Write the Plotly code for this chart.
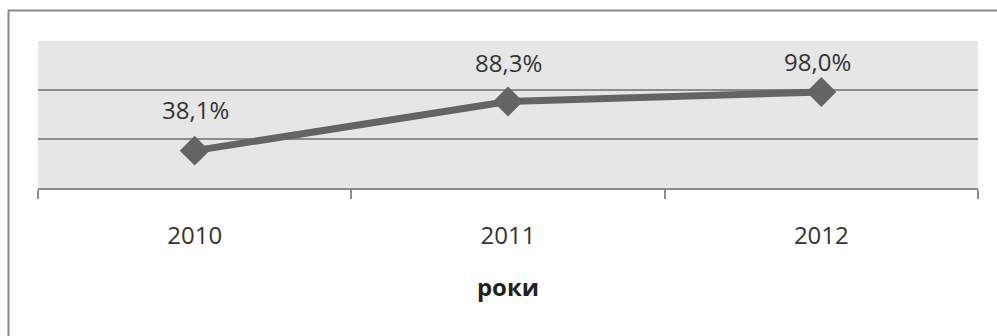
import plotly.graph_objects as go

years = ["2010", "2011", "2012"]
shares = [38.1, 88.3, 98.0]
labels = ["38,1%", "88,3%", "98,0%"]
label_yshift = [41, 39, 30]
label_xshift = [1, 0, -4]

FONT = "Open Sans"
FS = 24
TXT = "#333333"
GRID = "#8c8c8c"

fig = go.Figure()
fig.add_trace(go.Scatter(
    x=years, y=shares, mode="lines+markers",
    line=dict(color="#646464", width=7),
    marker=dict(symbol="diamond", size=23, color="#646464"),
    hoverinfo="skip", showlegend=False,
))

# category axis: annotation positions given by category index
for i, (y, t, dy, dx) in enumerate(zip(shares, labels, label_yshift, label_xshift)):
    fig.add_annotation(x=i, y=y, text=t, showarrow=False, yshift=dy, xshift=dx,
                       font=dict(family=FONT, size=FS, color=TXT))

# outer chart border (extends beyond the visible area on right/bottom)
fig.add_shape(type="rect", xref="paper", yref="paper",
              x0=(8.5 - 38) / 940, x1=(1005 - 38) / 940,
              y0=1 - (345 - 41) / 147, y1=1 + (41 - 10.5) / 147,
              line=dict(color="#8a8a8a", width=2), fillcolor="rgba(0,0,0,0)", layer="below")

fig.update_layout(
    width=997, height=336,
    margin=dict(l=38, r=19, t=41, b=148),
    paper_bgcolor="white", plot_bgcolor="#e6e6e6",
    font=dict(family=FONT, size=FS, color=TXT),
    xaxis=dict(
        type="category", tickson="boundaries", range=[-0.5, 2.5],
        showline=True, linecolor=GRID, linewidth=1.5,
        ticks="outside", ticklen=9, tickcolor=GRID, tickwidth=1.5,
        showgrid=False, zeroline=False, tickangle=0,
        tickfont=dict(family=FONT, size=FS, color=TXT),
        ticklabelstandoff=25,
        title=dict(text="<b>роки</b>", font=dict(family=FONT, size=FS, color="#222222"), standoff=30),
        fixedrange=True,
    ),
    yaxis=dict(
        range=[0, 150], dtick=50, showticklabels=False,
        showgrid=True, gridcolor=GRID, gridwidth=1.5,
        zeroline=False, showline=False, ticks="", fixedrange=True,
    ),
)

fig.write_html("out.html")
